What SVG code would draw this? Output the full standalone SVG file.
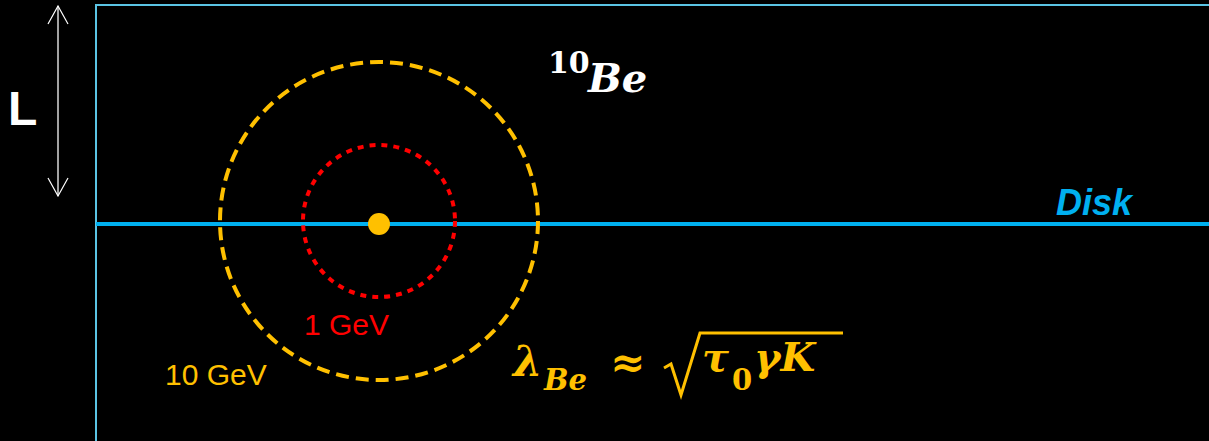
<svg xmlns="http://www.w3.org/2000/svg" width="1209" height="441" viewBox="0 0 1209 441">
<style>
.sans{font-family:"Liberation Sans",Arial,sans-serif}
.math{font-family:"DejaVu Serif","Liberation Serif",serif;font-weight:bold}
.gold{fill:#ffc000}
</style>
<defs>
<marker id="open" viewBox="0 0 20 22" refX="19" refY="11" markerWidth="20" markerHeight="22" markerUnits="userSpaceOnUse" orient="auto-start-reverse">
<path d="M1,1 L19,11 L1,21" fill="none" stroke="#ffffff" stroke-width="1.2"/>
</marker>
</defs>
<rect width="1209" height="441" fill="#000"/>
<g id="frame">
<path d="M96,441 V5 H1209" fill="none" stroke="#5bc4e4" stroke-width="2"/>
</g>
<g id="connectors">
<line x1="58" y1="6" x2="58" y2="196" stroke="#d9d9d9" stroke-width="1.5" marker-start="url(#open)" marker-end="url(#open)"/>
</g>
<g id="L-label">
<text x="8" y="125" class="sans" font-size="48" font-weight="bold" fill="#fff">L</text>
</g>
<g id="disk">
<line x1="96" y1="224" x2="1209" y2="224" stroke="#00b0f0" stroke-width="4"/>
<text x="1056" y="215" class="sans" font-size="36" font-weight="bold" font-style="italic" fill="#00b0f0">Disk</text>
</g>
<g id="outer-circle">
<circle cx="379" cy="221" r="159" fill="none" stroke="#ffc000" stroke-width="4" stroke-dasharray="13 7"/>
<text x="165" y="385" class="sans gold" font-size="30">10 GeV</text>
</g>
<g id="inner-circle">
<circle cx="379" cy="221" r="76" fill="none" stroke="#ff0000" stroke-width="4" stroke-dasharray="6 6"/>
<text x="304" y="335" class="sans" font-size="30" fill="#ff0000">1 GeV</text>
</g>
<g id="source">
<circle cx="379" cy="224" r="11" fill="#ffc000"/>
</g>
<g id="be10">
<text x="548" y="73" class="math" font-size="30" fill="#fff">10</text>
<text x="588" y="92" class="math" font-size="40" font-style="italic" fill="#fff">Be</text>
</g>
<g id="formula">
<text x="513" y="376" class="math gold" font-size="42" font-style="italic">λ</text>
<text x="544" y="390" class="math gold" font-size="29" font-style="italic">Be</text>
<text x="610" y="377" class="math gold" font-size="42">≈</text>
<path d="M664,368 L671,364 L681,395 L700,333 H843" fill="none" stroke="#ffc000" stroke-width="3"/>
<text x="702" y="371" class="math gold" font-size="40" font-style="italic">τ</text>
<text x="732" y="390" class="math gold" font-size="29">0</text>
<text x="754" y="371" class="math gold" font-size="40" font-style="italic">γK</text>
</g>
</svg>
